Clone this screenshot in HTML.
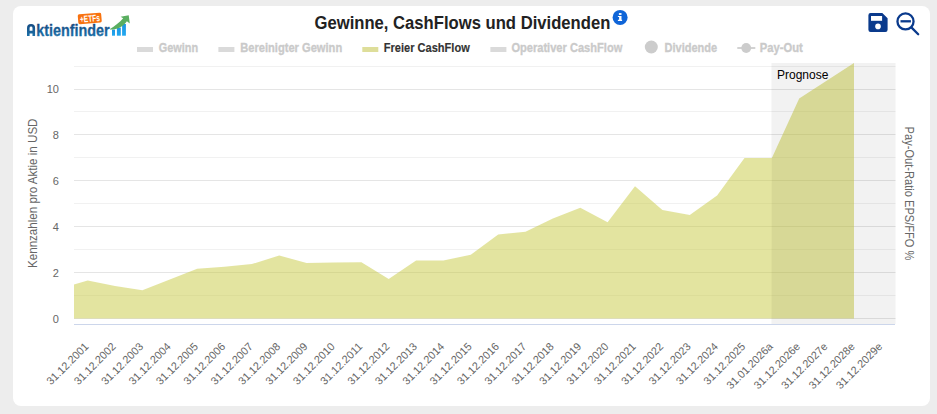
<!DOCTYPE html>
<html lang="de"><head><meta charset="utf-8"><title>Gewinne, CashFlows und Dividenden</title>
<style>
html,body{margin:0;padding:0;}
body{width:937px;height:414px;overflow:hidden;background:#ededed;font-family:"Liberation Sans",sans-serif;}
.card{position:absolute;left:13px;top:6px;width:917px;height:400px;background:#fff;border-radius:8px;}
svg{position:absolute;left:0;top:0;}
text{font-family:"Liberation Sans",sans-serif;}
</style></head><body>
<div class="card"></div>
<svg width="937" height="414" viewBox="0 0 937 414">
<defs>
<linearGradient id="lg" x1="0" y1="0" x2="0" y2="1"><stop offset="0" stop-color="#16467f"/><stop offset="1" stop-color="#1c73aa"/></linearGradient>
<linearGradient id="bg" x1="0" y1="0" x2="0" y2="1"><stop offset="0" stop-color="#1e96e2"/><stop offset="1" stop-color="#22a8f0"/></linearGradient>
<linearGradient id="lg2" gradientUnits="userSpaceOnUse" x1="0" y1="23" x2="0" y2="36"><stop offset="0" stop-color="#15487f"/><stop offset="1" stop-color="#1c70a8"/></linearGradient>
</defs>
<rect x="771.5" y="63" width="124.0" height="261" fill="#f2f2f2"/>
<rect x="74" y="66" width="821.5" height="1" fill="#000" fill-opacity="0.055"/>
<rect x="74" y="89" width="821.5" height="1" fill="#000" fill-opacity="0.1"/>
<rect x="74" y="111" width="821.5" height="1" fill="#000" fill-opacity="0.055"/>
<rect x="74" y="134" width="821.5" height="1" fill="#000" fill-opacity="0.1"/>
<rect x="74" y="157" width="821.5" height="1" fill="#000" fill-opacity="0.055"/>
<rect x="74" y="180" width="821.5" height="1" fill="#000" fill-opacity="0.1"/>
<rect x="74" y="203" width="821.5" height="1" fill="#000" fill-opacity="0.055"/>
<rect x="74" y="226" width="821.5" height="1" fill="#000" fill-opacity="0.1"/>
<rect x="74" y="249" width="821.5" height="1" fill="#000" fill-opacity="0.055"/>
<rect x="74" y="272" width="821.5" height="1" fill="#000" fill-opacity="0.1"/>
<rect x="74" y="295" width="821.5" height="1" fill="#000" fill-opacity="0.055"/>
<rect x="74" y="318" width="821.5" height="1" fill="#000" fill-opacity="0.1"/>
<rect x="74" y="324" width="821" height="1" fill="#ccd6eb"/>
<polygon points="74.0,284.4 87.7,280.6 115.0,285.9 142.4,290.2 169.8,279.5 197.2,268.8 224.5,266.7 251.9,264.1 279.2,255.5 306.6,263.0 334.0,262.5 361.4,262.3 388.7,279.0 416.1,260.4 443.4,260.4 470.8,254.7 498.2,234.6 525.5,231.7 552.9,218.4 580.3,207.7 607.6,222.3 635.0,186.2 662.4,210.0 689.8,215.1 717.1,195.5 744.5,158.1 771.9,158.0 799.2,98.5 826.6,80.8 854.0,63.0 854.0,318.5 74,318.5" fill="#c7c942" fill-opacity="0.5"/>
<polygon points="771.9,158.0 799.2,98.5 826.6,80.8 854.0,63.0 854.0,318.5 771.5,318.5" fill="#000" fill-opacity="0.022"/>
<text x="777" y="78.5" font-size="12" fill="#000">Prognose</text>
<text x="58.9" y="92.65" font-size="11" fill="#666" text-anchor="end">10</text>
<text x="58.9" y="138.63" font-size="11" fill="#666" text-anchor="end">8</text>
<text x="58.9" y="184.61" font-size="11" fill="#666" text-anchor="end">6</text>
<text x="58.9" y="230.59" font-size="11" fill="#666" text-anchor="end">4</text>
<text x="58.9" y="276.57" font-size="11" fill="#666" text-anchor="end">2</text>
<text x="58.9" y="322.55" font-size="11" fill="#666" text-anchor="end">0</text>
<text x="89.3" y="347.3" font-size="11" fill="#666" text-anchor="end" textLength="54.0" lengthAdjust="spacingAndGlyphs" transform="rotate(-45 89.3 347.3)">31.12.2001</text>
<text x="116.6" y="347.3" font-size="11" fill="#666" text-anchor="end" textLength="54.0" lengthAdjust="spacingAndGlyphs" transform="rotate(-45 116.6 347.3)">31.12.2002</text>
<text x="144.0" y="347.3" font-size="11" fill="#666" text-anchor="end" textLength="54.0" lengthAdjust="spacingAndGlyphs" transform="rotate(-45 144.0 347.3)">31.12.2003</text>
<text x="171.4" y="347.3" font-size="11" fill="#666" text-anchor="end" textLength="54.0" lengthAdjust="spacingAndGlyphs" transform="rotate(-45 171.4 347.3)">31.12.2004</text>
<text x="198.8" y="347.3" font-size="11" fill="#666" text-anchor="end" textLength="54.0" lengthAdjust="spacingAndGlyphs" transform="rotate(-45 198.8 347.3)">31.12.2005</text>
<text x="226.1" y="347.3" font-size="11" fill="#666" text-anchor="end" textLength="54.0" lengthAdjust="spacingAndGlyphs" transform="rotate(-45 226.1 347.3)">31.12.2006</text>
<text x="253.5" y="347.3" font-size="11" fill="#666" text-anchor="end" textLength="54.0" lengthAdjust="spacingAndGlyphs" transform="rotate(-45 253.5 347.3)">31.12.2007</text>
<text x="280.9" y="347.3" font-size="11" fill="#666" text-anchor="end" textLength="54.0" lengthAdjust="spacingAndGlyphs" transform="rotate(-45 280.9 347.3)">31.12.2008</text>
<text x="308.2" y="347.3" font-size="11" fill="#666" text-anchor="end" textLength="54.0" lengthAdjust="spacingAndGlyphs" transform="rotate(-45 308.2 347.3)">31.12.2009</text>
<text x="335.6" y="347.3" font-size="11" fill="#666" text-anchor="end" textLength="54.0" lengthAdjust="spacingAndGlyphs" transform="rotate(-45 335.6 347.3)">31.12.2010</text>
<text x="363.0" y="347.3" font-size="11" fill="#666" text-anchor="end" textLength="54.0" lengthAdjust="spacingAndGlyphs" transform="rotate(-45 363.0 347.3)">31.12.2011</text>
<text x="390.3" y="347.3" font-size="11" fill="#666" text-anchor="end" textLength="54.0" lengthAdjust="spacingAndGlyphs" transform="rotate(-45 390.3 347.3)">31.12.2012</text>
<text x="417.7" y="347.3" font-size="11" fill="#666" text-anchor="end" textLength="54.0" lengthAdjust="spacingAndGlyphs" transform="rotate(-45 417.7 347.3)">31.12.2013</text>
<text x="445.1" y="347.3" font-size="11" fill="#666" text-anchor="end" textLength="54.0" lengthAdjust="spacingAndGlyphs" transform="rotate(-45 445.1 347.3)">31.12.2014</text>
<text x="472.4" y="347.3" font-size="11" fill="#666" text-anchor="end" textLength="54.0" lengthAdjust="spacingAndGlyphs" transform="rotate(-45 472.4 347.3)">31.12.2015</text>
<text x="499.8" y="347.3" font-size="11" fill="#666" text-anchor="end" textLength="54.0" lengthAdjust="spacingAndGlyphs" transform="rotate(-45 499.8 347.3)">31.12.2016</text>
<text x="527.1" y="347.3" font-size="11" fill="#666" text-anchor="end" textLength="54.0" lengthAdjust="spacingAndGlyphs" transform="rotate(-45 527.1 347.3)">31.12.2017</text>
<text x="554.5" y="347.3" font-size="11" fill="#666" text-anchor="end" textLength="54.0" lengthAdjust="spacingAndGlyphs" transform="rotate(-45 554.5 347.3)">31.12.2018</text>
<text x="581.9" y="347.3" font-size="11" fill="#666" text-anchor="end" textLength="54.0" lengthAdjust="spacingAndGlyphs" transform="rotate(-45 581.9 347.3)">31.12.2019</text>
<text x="609.2" y="347.3" font-size="11" fill="#666" text-anchor="end" textLength="54.0" lengthAdjust="spacingAndGlyphs" transform="rotate(-45 609.2 347.3)">31.12.2020</text>
<text x="636.6" y="347.3" font-size="11" fill="#666" text-anchor="end" textLength="54.0" lengthAdjust="spacingAndGlyphs" transform="rotate(-45 636.6 347.3)">31.12.2021</text>
<text x="664.0" y="347.3" font-size="11" fill="#666" text-anchor="end" textLength="54.0" lengthAdjust="spacingAndGlyphs" transform="rotate(-45 664.0 347.3)">31.12.2022</text>
<text x="691.4" y="347.3" font-size="11" fill="#666" text-anchor="end" textLength="54.0" lengthAdjust="spacingAndGlyphs" transform="rotate(-45 691.4 347.3)">31.12.2023</text>
<text x="718.7" y="347.3" font-size="11" fill="#666" text-anchor="end" textLength="54.0" lengthAdjust="spacingAndGlyphs" transform="rotate(-45 718.7 347.3)">31.12.2024</text>
<text x="746.1" y="347.3" font-size="11" fill="#666" text-anchor="end" textLength="54.0" lengthAdjust="spacingAndGlyphs" transform="rotate(-45 746.1 347.3)">31.12.2025</text>
<text x="773.5" y="347.3" font-size="11" fill="#666" text-anchor="end" textLength="60.0" lengthAdjust="spacingAndGlyphs" transform="rotate(-45 773.5 347.3)">31.01.2026a</text>
<text x="800.8" y="347.3" font-size="11" fill="#666" text-anchor="end" textLength="60.0" lengthAdjust="spacingAndGlyphs" transform="rotate(-45 800.8 347.3)">31.12.2026e</text>
<text x="828.2" y="347.3" font-size="11" fill="#666" text-anchor="end" textLength="60.0" lengthAdjust="spacingAndGlyphs" transform="rotate(-45 828.2 347.3)">31.12.2027e</text>
<text x="855.6" y="347.3" font-size="11" fill="#666" text-anchor="end" textLength="60.0" lengthAdjust="spacingAndGlyphs" transform="rotate(-45 855.6 347.3)">31.12.2028e</text>
<text x="882.9" y="347.3" font-size="11" fill="#666" text-anchor="end" textLength="60.0" lengthAdjust="spacingAndGlyphs" transform="rotate(-45 882.9 347.3)">31.12.2029e</text>
<text x="0" y="0" font-size="12" fill="#666" textLength="149.5" lengthAdjust="spacingAndGlyphs" transform="translate(36.5 268) rotate(-90)">Kennzahlen pro Aktie in USD</text>
<text x="0" y="0" font-size="12" fill="#666" textLength="133.8" lengthAdjust="spacingAndGlyphs" transform="translate(905.1 126.6) rotate(90)">Pay-Out-Ratio EPS/FFO %</text>
<text x="314.5" y="28.7" font-size="18" font-weight="bold" fill="#222" textLength="295.8" lengthAdjust="spacingAndGlyphs">Gewinne, CashFlows und Dividenden</text>
<circle cx="620.1" cy="17.4" r="7.5" fill="#0f65d8"/>
<rect x="618.9" y="13.1" width="2.6" height="1.8" fill="#fff"/>
<path d="M617.9 15.9h3.6v3.8h0.6v1.2h-4.2v-1.2h1.2v-2.6h-1.2z" fill="#fff"/>
<rect x="137" y="47" width="16" height="5" fill="#dadada"/>
<text x="158.7" y="52.1" font-size="13.4" font-weight="bold" fill="#cacaca" stroke="#cacaca" stroke-width="0.35" textLength="39.4" lengthAdjust="spacingAndGlyphs">Gewinn</text>
<rect x="218.4" y="47" width="16" height="5" fill="#dadada"/>
<text x="240.2" y="52.1" font-size="13.4" font-weight="bold" fill="#cacaca" stroke="#cacaca" stroke-width="0.35" textLength="102" lengthAdjust="spacingAndGlyphs">Bereinigter Gewinn</text>
<rect x="362.3" y="47" width="16" height="5" fill="#dede9a"/>
<text x="383.8" y="52.1" font-size="13.4" font-weight="bold" fill="#333333" stroke="#333333" stroke-width="0.15" textLength="86" lengthAdjust="spacingAndGlyphs">Freier CashFlow</text>
<rect x="490.4" y="47" width="16" height="5" fill="#dadada"/>
<text x="511.4" y="52.1" font-size="13.4" font-weight="bold" fill="#cacaca" stroke="#cacaca" stroke-width="0.35" textLength="110.9" lengthAdjust="spacingAndGlyphs">Operativer CashFlow</text>
<circle cx="651.3" cy="47" r="6.5" fill="#cccccc"/>
<text x="664.6" y="52.1" font-size="13.4" font-weight="bold" fill="#cacaca" stroke="#cacaca" stroke-width="0.35" textLength="52.6" lengthAdjust="spacingAndGlyphs">Dividende</text>
<rect x="737.3" y="47" width="18" height="2" fill="#d2d2d2"/>
<circle cx="746.2" cy="48" r="4.9" fill="#cccccc"/>
<text x="759.8" y="52.1" font-size="13.4" font-weight="bold" fill="#cacaca" stroke="#cacaca" stroke-width="0.35" textLength="43" lengthAdjust="spacingAndGlyphs">Pay-Out</text>
<path d="M28.3 35.9V28a2.75 2.75 0 0 1 5.5 0V35.9M28.3 32.1H33.8" fill="none" stroke="url(#lg2)" stroke-width="2.6"/>
<text x="36.2" y="35.8" font-size="16.5" font-weight="bold" fill="url(#lg2)" stroke="url(#lg2)" stroke-width="0.3" stroke-linejoin="round" textLength="73.5" lengthAdjust="spacingAndGlyphs">ktienfinder</text>
<g transform="rotate(-4.8 89.75 18.4)"><rect x="78" y="13.5" width="23.5" height="9.8" rx="1.6" fill="#f8720f"/>
<text x="79.9" y="21.8" font-size="9.4" font-weight="bold" fill="#fff" textLength="20" lengthAdjust="spacingAndGlyphs">+ETFs</text></g>
<rect x="112" y="29.6" width="3" height="6.1" fill="url(#bg)"/>
<rect x="116.9" y="27.6" width="3.9" height="8.1" fill="url(#bg)"/>
<rect x="122.1" y="24" width="3.8" height="11.7" fill="url(#bg)"/>
<path d="M110 29 C114.6 26.0 119.8 22.3 123.2 18.2 L120.6 16.7 L128.7 15.3 L129.8 23.5 L126.9 21.2 C123.5 25.8 118 29.8 110 29.6 Z" fill="#5aae60"/>
<g fill="#0a3a8c"><path d="M868.4 15.2a2.2 2.2 0 0 1 2.2-2.2H882.3L887.6 18.3V29.7a2.2 2.2 0 0 1-2.2 2.2H870.6a2.2 2.2 0 0 1-2.2-2.2z"/></g>
<rect x="871" y="16" width="11.1" height="4.8" fill="#fff"/>
<circle cx="878" cy="26.4" r="2.8" fill="#fff"/>
<g fill="none" stroke="#0a3a8c" stroke-width="2.3" stroke-linecap="round"><circle cx="905.5" cy="21.4" r="8.05"/><path d="M900.5 21.3h10.4" stroke-linecap="butt"/><path d="M911.6 27.6l6.6 6.7"/></g>
</svg>
</body></html>
